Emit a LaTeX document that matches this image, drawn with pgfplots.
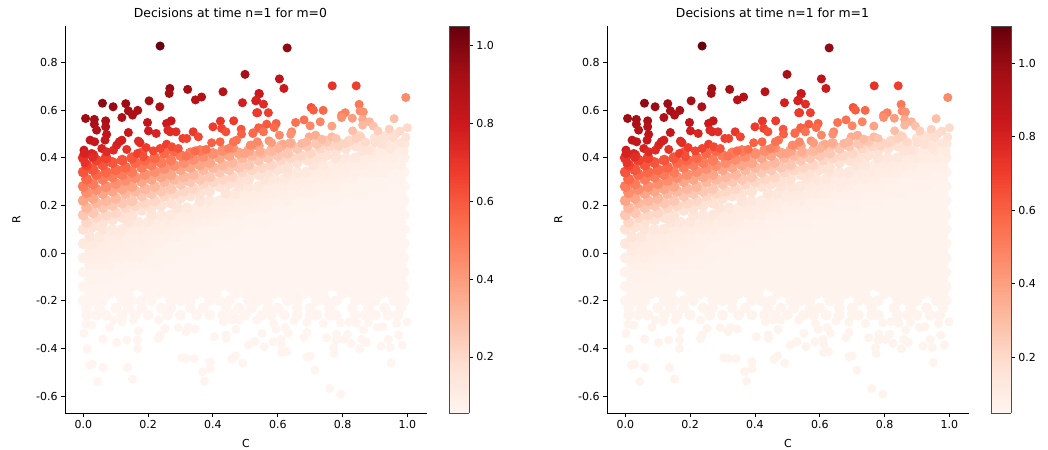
\documentclass[border=0pt]{standalone}
\usepackage{fontspec}
\setmainfont{DejaVu Sans}
\usepackage{pgfplots}
\usepackage{pgfplotstable}
\pgfplotsset{compat=1.18}
\pgfkeys{/pgf/number format/assume math mode=true}

% pale mass: same colour in both panels
\pgfplotstableread{
C R m
.01 -.26 .06
.04 -.26 .06
.07 -.26 .06
.12 -.26 .06
.16 -.26 .06
.2 -.26 .06
.26 -.26 .06
.3 -.26 .06
.35 -.26 .06
.39 -.26 .06
.43 -.26 .06
.46 -.26 .06
.5 -.26 .06
.55 -.26 .06
.58 -.26 .06
.62 -.26 .06
.66 -.26 .06
.7 -.26 .06
.72 -.26 .06
.76 -.26 .06
.78 -.26 .06
.84 -.26 .06
.87 -.26 .06
.9 -.26 .06
.94 -.26 .06
.97 -.26 .06
.01 -.23 .06
.05 -.23 .06
.1 -.23 .06
.14 -.23 .06
.18 -.23 .06
.24 -.23 .06
.27 -.23 .06
.33 -.23 .06
.37 -.23 .06
.44 -.23 .06
.48 -.23 .06
.52 -.23 .06
.57 -.23 .06
.6 -.23 .06
.66 -.23 .06
.7 -.23 .06
.76 -.23 .06
.83 -.23 .06
.88 -.23 .06
.93 -.23 .06
.98 -.23 .06
0 -.2 .06
.03 -.2 .06
.06 -.2 .06
.12 -.2 .06
.15 -.2 .06
.18 -.2 .06
.21 -.2 .06
.27 -.2 .06
.3 -.2 .06
.33 -.2 .06
.39 -.2 .06
.42 -.2 .06
.45 -.2 .06
.51 -.2 .06
.54 -.2 .06
.57 -.2 .06
.63 -.2 .06
.66 -.2 .06
.72 -.2 .06
.75 -.2 .06
.78 -.2 .06
.84 -.2 .06
.87 -.2 .06
.9 -.2 .06
.96 -.2 .06
.99 -.2 .06
.02 -.17 .06
.05 -.17 .06
.08 -.17 .06
.11 -.17 .06
.14 -.17 .06
.2 -.17 .06
.23 -.17 .06
.26 -.17 .06
.29 -.17 .06
.32 -.17 .06
.35 -.17 .06
.38 -.17 .06
.41 -.17 .06
.47 -.17 .06
.5 -.17 .06
.53 -.17 .06
.56 -.17 .06
.59 -.17 .06
.62 -.17 .06
.65 -.17 .06
.68 -.17 .06
.71 -.17 .06
.74 -.17 .06
.8 -.17 .06
.83 -.17 .06
.86 -.17 .06
.89 -.17 .06
.92 -.17 .06
.95 -.17 .06
.98 -.17 .06
0 -.14 .06
.03 -.14 .06
.06 -.14 .06
.09 -.14 .06
.12 -.14 .06
.15 -.14 .06
.18 -.14 .06
.21 -.14 .06
.24 -.14 .06
.27 -.14 .06
.3 -.14 .06
.33 -.14 .06
.36 -.14 .06
.39 -.14 .06
.42 -.14 .06
.45 -.14 .06
.48 -.14 .06
.51 -.14 .06
.54 -.14 .06
.57 -.14 .06
.6 -.14 .06
.63 -.14 .06
.66 -.14 .06
.69 -.14 .06
.72 -.14 .06
.75 -.14 .06
.78 -.14 .06
.81 -.14 .06
.84 -.14 .06
.87 -.14 .06
.9 -.14 .06
.93 -.14 .06
.96 -.14 .06
.99 -.14 .06
.02 -.11 .07
.05 -.11 .07
.08 -.11 .07
.11 -.11 .06
.14 -.11 .06
.17 -.11 .06
.2 -.11 .06
.23 -.11 .06
.26 -.11 .06
.29 -.11 .06
.32 -.11 .06
.35 -.11 .06
.38 -.11 .06
.41 -.11 .06
.44 -.11 .06
.47 -.11 .06
.5 -.11 .06
.53 -.11 .06
.56 -.11 .06
.59 -.11 .06
.62 -.11 .06
.65 -.11 .06
.68 -.11 .06
.71 -.11 .06
.74 -.11 .06
.77 -.11 .06
.8 -.11 .06
.83 -.11 .06
.86 -.11 .06
.89 -.11 .06
.92 -.11 .06
.95 -.11 .06
.98 -.11 .06
0 -.08 .07
.03 -.08 .07
.06 -.08 .07
.09 -.08 .07
.12 -.08 .07
.15 -.08 .06
.18 -.08 .06
.21 -.08 .06
.24 -.08 .06
.27 -.08 .06
.3 -.08 .06
.33 -.08 .06
.36 -.08 .06
.39 -.08 .06
.42 -.08 .06
.45 -.08 .06
.48 -.08 .06
.51 -.08 .06
.54 -.08 .06
.57 -.08 .06
.6 -.08 .06
.63 -.08 .06
.66 -.08 .06
.69 -.08 .06
.72 -.08 .06
.75 -.08 .06
.78 -.08 .06
.81 -.08 .06
.84 -.08 .06
.87 -.08 .06
.9 -.08 .06
.93 -.08 .06
.96 -.08 .06
.99 -.08 .06
.02 -.05 .08
.05 -.05 .08
.08 -.05 .08
.11 -.05 .07
.14 -.05 .07
.17 -.05 .07
.2 -.05 .07
.23 -.05 .07
.26 -.05 .06
.29 -.05 .06
.32 -.05 .06
.35 -.05 .06
.38 -.05 .06
.41 -.05 .06
.44 -.05 .06
.47 -.05 .06
.5 -.05 .06
.53 -.05 .06
.56 -.05 .06
.59 -.05 .06
.62 -.05 .06
.65 -.05 .06
.68 -.05 .06
.71 -.05 .06
.74 -.05 .06
.77 -.05 .06
.8 -.05 .06
.83 -.05 .06
.86 -.05 .06
.89 -.05 .06
.92 -.05 .06
.95 -.05 .06
.98 -.05 .06
0 -.02 .09
.03 -.02 .09
.06 -.02 .09
.09 -.02 .08
.12 -.02 .08
.15 -.02 .08
.18 -.02 .08
.21 -.02 .07
.24 -.02 .07
.27 -.02 .07
.3 -.02 .06
.33 -.02 .06
.36 -.02 .06
.39 -.02 .06
.42 -.02 .06
.45 -.02 .06
.48 -.02 .06
.51 -.02 .06
.54 -.02 .06
.57 -.02 .06
.6 -.02 .06
.63 -.02 .06
.66 -.02 .06
.69 -.02 .06
.72 -.02 .06
.75 -.02 .06
.78 -.02 .06
.81 -.02 .06
.84 -.02 .06
.87 -.02 .06
.9 -.02 .06
.93 -.02 .06
.96 -.02 .06
.99 -.02 .06
.02 .01 .11
.05 .01 .1
.08 .01 .1
.11 .01 .09
.14 .01 .09
.17 .01 .08
.2 .01 .08
.23 .01 .07
.26 .01 .07
.29 .01 .07
.32 .01 .07
.35 .01 .06
.38 .01 .06
.41 .01 .06
.44 .01 .06
.47 .01 .06
.5 .01 .06
.53 .01 .06
.56 .01 .06
.59 .01 .06
.62 .01 .06
.65 .01 .06
.68 .01 .06
.71 .01 .06
.74 .01 .06
.77 .01 .06
.8 .01 .06
.83 .01 .06
.86 .01 .06
.89 .01 .06
.92 .01 .06
.95 .01 .06
.98 .01 .06
0 .04 .13
.03 .04 .12
.06 .04 .11
.09 .04 .1
.12 .04 .1
.15 .04 .09
.18 .04 .09
.21 .04 .08
.24 .04 .08
.27 .04 .07
.3 .04 .07
.33 .04 .07
.36 .04 .07
.39 .04 .07
.42 .04 .06
.45 .04 .06
.48 .04 .06
.51 .04 .06
.54 .04 .06
.57 .04 .06
.6 .04 .06
.63 .04 .06
.66 .04 .06
.69 .04 .06
.72 .04 .06
.75 .04 .06
.78 .04 .06
.81 .04 .06
.84 .04 .06
.87 .04 .06
.9 .04 .06
.93 .04 .06
.96 .04 .06
.99 .04 .06
.02 .07 .15
.05 .07 .13
.08 .07 .11
.11 .07 .11
.14 .07 .1
.17 .07 .1
.2 .07 .09
.23 .07 .08
.26 .07 .08
.29 .07 .08
.32 .07 .07
.35 .07 .07
.38 .07 .07
.41 .07 .07
.44 .07 .07
.47 .07 .06
.5 .07 .06
.53 .07 .06
.56 .07 .06
.59 .07 .06
.62 .07 .06
.65 .07 .06
.68 .07 .06
.71 .07 .06
.74 .07 .06
.77 .07 .06
.8 .07 .06
.83 .07 .06
.86 .07 .06
.89 .07 .06
.92 .07 .06
.95 .07 .06
.98 .07 .06
.06 .1 .15
.09 .1 .13
.12 .1 .13
.15 .1 .11
.18 .1 .11
.21 .1 .1
.24 .1 .1
.27 .1 .09
.3 .1 .08
.33 .1 .08
.36 .1 .07
.39 .1 .07
.42 .1 .07
.45 .1 .07
.48 .1 .07
.51 .1 .06
.54 .1 .06
.57 .1 .06
.6 .1 .06
.63 .1 .06
.66 .1 .06
.69 .1 .06
.72 .1 .06
.75 .1 .06
.78 .1 .06
.81 .1 .06
.84 .1 .06
.87 .1 .06
.9 .1 .06
.93 .1 .06
.96 .1 .06
.99 .1 .06
.14 .13 .15
.17 .13 .13
.2 .13 .13
.23 .13 .11
.26 .13 .11
.29 .13 .1
.32 .13 .1
.35 .13 .09
.38 .13 .08
.41 .13 .08
.44 .13 .07
.47 .13 .07
.5 .13 .07
.53 .13 .07
.56 .13 .07
.59 .13 .06
.62 .13 .06
.65 .13 .06
.68 .13 .06
.71 .13 .06
.74 .13 .06
.77 .13 .06
.8 .13 .06
.83 .13 .06
.86 .13 .06
.89 .13 .06
.92 .13 .06
.95 .13 .06
.98 .13 .06
.21 .16 .15
.24 .16 .13
.27 .16 .13
.3 .16 .11
.33 .16 .11
.36 .16 .1
.39 .16 .1
.42 .16 .09
.45 .16 .08
.48 .16 .08
.51 .16 .07
.54 .16 .07
.57 .16 .07
.6 .16 .07
.63 .16 .07
.66 .16 .06
.69 .16 .06
.72 .16 .06
.75 .16 .06
.78 .16 .06
.81 .16 .06
.84 .16 .06
.87 .16 .06
.9 .16 .06
.93 .16 .06
.96 .16 .06
.99 .16 .06
.29 .19 .15
.32 .19 .13
.35 .19 .11
.38 .19 .11
.41 .19 .1
.44 .19 .1
.47 .19 .09
.5 .19 .08
.53 .19 .08
.56 .19 .08
.59 .19 .07
.62 .19 .07
.65 .19 .07
.68 .19 .07
.71 .19 .07
.74 .19 .06
.77 .19 .06
.8 .19 .06
.83 .19 .06
.86 .19 .06
.89 .19 .06
.92 .19 .06
.95 .19 .06
.98 .19 .06
.36 .22 .15
.39 .22 .13
.42 .22 .11
.45 .22 .11
.48 .22 .1
.51 .22 .1
.54 .22 .09
.57 .22 .08
.6 .22 .08
.63 .22 .08
.66 .22 .07
.69 .22 .07
.72 .22 .07
.75 .22 .07
.78 .22 .07
.81 .22 .06
.84 .22 .06
.87 .22 .06
.9 .22 .06
.93 .22 .06
.96 .22 .06
.99 .22 .06
.44 .25 .15
.47 .25 .13
.5 .25 .11
.53 .25 .11
.56 .25 .1
.59 .25 .1
.62 .25 .09
.65 .25 .08
.68 .25 .08
.71 .25 .08
.74 .25 .07
.77 .25 .07
.8 .25 .07
.83 .25 .07
.86 .25 .07
.89 .25 .06
.92 .25 .06
.95 .25 .06
.98 .25 .06
.48 .28 .15
.51 .28 .14
.54 .28 .13
.57 .28 .11
.6 .28 .11
.63 .28 .1
.66 .28 .1
.69 .28 .09
.72 .28 .08
.75 .28 .08
.78 .28 .08
.81 .28 .07
.84 .28 .07
.87 .28 .07
.9 .28 .07
.93 .28 .07
.96 .28 .06
.99 .28 .06
.56 .31 .15
.59 .31 .13
.62 .31 .13
.65 .31 .11
.68 .31 .11
.71 .31 .1
.74 .31 .1
.77 .31 .09
.8 .31 .08
.83 .31 .08
.86 .31 .07
.89 .31 .07
.92 .31 .07
.95 .31 .07
.98 .31 .07
.63 .34 .15
.66 .34 .13
.69 .34 .13
.72 .34 .11
.75 .34 .11
.78 .34 .1
.81 .34 .1
.84 .34 .09
.87 .34 .08
.9 .34 .08
.93 .34 .08
.96 .34 .07
.99 .34 .07
.71 .37 .15
.74 .37 .13
.77 .37 .11
.8 .37 .11
.83 .37 .1
.86 .37 .1
.89 .37 .09
.92 .37 .08
.95 .37 .08
.98 .37 .08
.78 .4 .15
.81 .4 .13
.84 .4 .13
.87 .4 .11
.9 .4 .11
.93 .4 .1
.96 .4 .1
.99 .4 .09
.86 .43 .15
.89 .43 .13
.92 .43 .11
.95 .43 .11
.98 .43 .1
.93 .46 .15
.96 .46 .13
.99 .46 .13
}\lowerpts

% loose points under the mass
\pgfplotstableread{
C R m
.093 -.281 .06
.119 -.288 .06
.154 -.281 .06
.232 -.281 .06
.432 -.288 .06
.458 -.281 .06
.479 -.281 .06
.535 -.281 .06
.65 -.285 .06
.69 -.29 .06
.044 -.539 .06
.152 -.529 .06
.028 -.466 .06
.019 -.47 .06
.06 -.48 .06
.136 -.48 .06
.012 -.402 .06
.167 -.4 .06
.06 -.361 .06
.103 -.375 .06
.167 -.365 .06
.134 -.365 .06
.002 -.337 .06
.026 -.302 .06
.008 -.298 .06
.082 -.312 .06
.17 -.327 .06
.232 -.358 .06
.237 -.344 .06
.252 -.316 .06
.293 -.313 .06
.317 -.33 .06
.324 -.312 .06
.345 -.319 .06
.304 -.439 .06
.317 -.442 .06
.342 -.443 .06
.391 -.456 .06
.391 -.485 .06
.368 -.498 .06
.374 -.537 .06
.404 -.351 .06
.441 -.358 .06
.441 -.344 .06
.471 -.32 .06
.458 -.445 .06
.47 -.431 .06
.492 -.462 .06
.509 -.386 .06
.53 -.372 .06
.76 -.568 .06
.794 -.592 .06
.715 -.491 .06
.95 -.46 .06
.69 -.435 .06
.7 -.432 .06
.774 -.421 .06
.772 -.397 .06
.612 -.417 .06
.627 -.414 .06
.558 -.393 .06
.585 -.372 .06
.61 -.362 .06
.612 -.382 .06
.527 -.372 .06
.681 -.354 .06
.69 -.333 .06
.751 -.355 .06
.782 -.341 .06
.78 -.365 .06
.803 -.362 .06
.816 -.341 .06
.826 -.379 .06
.852 -.401 .06
.859 -.362 .06
.873 -.375 .06
.919 -.39 .06
.941 -.362 .06
.947 -.396 .06
.985 -.386 .06
.973 -.344 .06
.551 -.337 .06
.595 -.32 .06
.623 -.312 .06
.633 -.335 .06
.587 -.295 .06
.741 -.295 .06
.794 -.293 .06
.821 -.288 .06
.844 -.295 .06
.865 -.323 .06
.88 -.291 .06
.907 -.312 .06
.924 -.309 .06
.967 -.295 .06
.999 -.288 .06
}\sparsepts

% coloured band (first 179 rows) and the points above it
\pgfplotstableread{
C R m0 m1
0 .1 .17 .169
.03 .11 .17 .169
.06 .13 .17 .169
.09 .14 .17 .169
.12 .15 .17 .169
.15 .16 .17 .169
.18 .18 .17 .169
.21 .19 .17 .169
.24 .2 .17 .169
.27 .21 .17 .169
.3 .23 .17 .169
.33 .24 .17 .169
.36 .25 .17 .169
.39 .26 .17 .169
.42 .28 .17 .169
.45 .29 .17 .169
.48 .3 .17 .169
.51 .31 .17 .169
.54 .33 .17 .169
.57 .34 .17 .169
.6 .35 .17 .169
.63 .36 .17 .169
.66 .38 .17 .169
.69 .39 .17 .169
.72 .4 .17 .169
.75 .41 .17 .169
.78 .43 .17 .169
.81 .44 .17 .169
.84 .45 .17 .169
.87 .46 .17 .169
.9 .48 .17 .169
.93 .49 .17 .169
.01 .13 .21 .211
.04 .15 .21 .211
.07 .16 .21 .211
.1 .17 .21 .211
.13 .19 .21 .211
.16 .2 .21 .211
.19 .21 .21 .211
.22 .22 .21 .211
.25 .24 .21 .211
.28 .25 .21 .211
.31 .26 .21 .211
.34 .27 .21 .211
.37 .29 .21 .211
.4 .3 .21 .211
.43 .31 .21 .211
.46 .32 .21 .211
.49 .34 .21 .211
.52 .35 .21 .211
.55 .36 .21 .211
.58 .37 .21 .211
.61 .39 .21 .211
.64 .4 .21 .211
.67 .41 .21 .211
.7 .42 .21 .211
.73 .44 .21 .211
.76 .45 .21 .211
.79 .46 .21 .211
.82 .47 .21 .211
.85 .49 .21 .211
0 .16 .26 .264
.03 .17 .26 .264
.06 .19 .26 .264
.09 .2 .26 .264
.12 .21 .26 .264
.15 .22 .26 .264
.18 .24 .26 .264
.21 .25 .26 .264
.24 .26 .26 .264
.27 .27 .26 .264
.3 .29 .26 .264
.33 .3 .26 .264
.36 .31 .26 .264
.39 .32 .26 .264
.42 .34 .26 .264
.45 .35 .26 .264
.48 .36 .26 .264
.51 .37 .26 .264
.54 .39 .26 .264
.57 .4 .26 .264
.6 .41 .26 .264
.63 .42 .26 .264
.66 .44 .26 .264
.69 .45 .26 .264
.72 .46 .26 .264
.75 .47 .26 .264
.01 .19 .31 .317
.04 .21 .31 .317
.07 .22 .31 .317
.1 .23 .31 .317
.13 .25 .31 .317
.16 .26 .31 .317
.19 .27 .31 .317
.22 .28 .31 .317
.25 .3 .31 .317
.28 .31 .31 .317
.31 .32 .31 .317
.34 .33 .31 .317
.37 .35 .31 .317
.4 .36 .31 .317
.43 .37 .31 .317
.46 .38 .31 .317
.49 .4 .31 .317
.52 .41 .31 .317
.55 .42 .31 .317
.58 .43 .31 .317
.61 .45 .31 .317
.64 .46 .31 .317
0 .22 .37 .38
.03 .23 .37 .38
.06 .25 .37 .38
.09 .26 .37 .38
.12 .27 .37 .38
.15 .28 .37 .38
.18 .3 .37 .38
.21 .31 .37 .38
.24 .32 .37 .38
.27 .33 .37 .38
.3 .35 .37 .38
.33 .36 .37 .38
.36 .37 .37 .38
.39 .38 .37 .38
.42 .4 .37 .38
.45 .41 .37 .38
.48 .42 .37 .38
.51 .43 .37 .38
.54 .45 .37 .38
.01 .254 .44 .455
.04 .267 .44 .455
.07 .279 .44 .455
.1 .292 .44 .455
.13 .305 .44 .455
.16 .317 .44 .455
.19 .33 .44 .455
.22 .342 .44 .455
.25 .355 .44 .455
.28 .368 .44 .455
.31 .38 .44 .455
.34 .393 .44 .455
.37 .405 .44 .455
.4 .418 .44 .455
.43 .431 .44 .455
.46 .443 .44 .455
0 .28 .5 .518
.03 .29 .5 .518
.06 .31 .5 .518
.09 .32 .5 .518
.12 .33 .5 .518
.15 .34 .5 .518
.18 .36 .5 .518
.21 .37 .5 .518
.24 .38 .5 .518
.27 .39 .5 .518
.3 .41 .5 .518
.33 .42 .5 .518
.36 .43 .5 .518
.01 .31 .56 .58
.04 .33 .56 .58
.07 .34 .56 .58
.1 .35 .56 .58
.13 .36 .56 .58
.16 .38 .56 .58
.19 .39 .56 .58
.22 .4 .56 .58
.25 .42 .56 .58
.28 .43 .56 .58
0 .34 .61 .634
.03 .35 .61 .634
.06 .37 .61 .634
.09 .38 .61 .634
.12 .39 .61 .634
.15 .4 .61 .634
.18 .42 .61 .634
.01 .37 .66 .69
.04 .39 .66 .69
.07 .4 .66 .69
0 .4 .71 .74
.03 .41 .71 .74
.237 .869 1.05 1.1
.499 .75 .92 .96
.267 .691 .95 .99
.265 .67 .93 .97
.322 .687 .93 .97
.431 .677 .87 .91
.365 .655 .88 .92
.346 .643 .87 .91
.059 .629 .97 1.01
.092 .614 .95 .99
.131 .627 .94 .98
.203 .639 .93 .97
.236 .614 .9 .94
.168 .599 .91 .95
.139 .597 .92 .96
.152 .579 .9 .94
.119 .569 .9 .94
.007 .565 .94 .98
.034 .561 .93 .97
.034 .541 .91 .95
.041 .516 .88 .92
.069 .555 .91 .95
.069 .53 .88 .92
.072 .498 .84 .88
.067 .474 .82 .86
.198 .548 .84 .88
.201 .513 .79 .82
.225 .502 .76 .79
.271 .555 .81 .85
.257 .544 .8 .84
.261 .516 .75 .78
.268 .509 .74 .77
.286 .509 .73 .76
.139 .506 .82 .86
.021 .474 .84 .88
.035 .467 .82 .86
.002 .432 .8 .83
.003 .418 .77 .8
.026 .418 .76 .79
.029 .402 .73 .76
.005 .379 .71 .74
.057 .439 .77 .8
.072 .425 .74 .77
.093 .432 .74 .77
.103 .453 .76 .79
.119 .474 .78 .81
.111 .467 .78 .81
.134 .435 .71 .74
.17 .47 .74 .77
.175 .463 .73 .76
.194 .443 .68 .71
.167 .418 .67 .7
.185 .404 .63 .66
.216 .429 .65 .68
.237 .439 .65 .68
.257 .457 .67 .7
.273 .446 .64 .67
.293 .439 .62 .64
.307 .481 .67 .7
.319 .481 .66 .69
.339 .509 .69 .72
.355 .488 .65 .68
.345 .429 .55 .57
.317 .407 .53 .55
.379 .435 .54 .56
.4 .53 .68 .71
.423 .554 .7 .73
.427 .523 .66 .69
.44 .509 .63 .66
.464 .555 .68 .71
.487 .52 .61 .63
.488 .499 .58 .6
.396 .463 .58 .6
.422 .467 .57 .59
.463 .467 .53 .55
.473 .474 .53 .55
.448 .439 .48 .5
.515 .453 .45 .47
.524 .505 .55 .57
.541 .526 .58 .6
.491 .631 .78 .81
.532 .639 .77 .8
.542 .67 .81 .85
.535 .589 .68 .71
.497 .418 .38 .39
.629 .861 .97 1.01
.605 .731 .85 .89
.619 .691 .8 .83
.768 .702 .71 .74
.842 .702 .67 .7
.995 .653 .45 .47
.543 .668 .8 .84
.534 .642 .77 .8
.556 .625 .73 .76
.538 .589 .68 .71
.571 .589 .67 .7
.703 .611 .62 .64
.71 .6 .59 .61
.74 .599 .56 .58
.851 .624 .51 .53
.854 .596 .45 .47
.864 .592 .43 .45
.797 .579 .47 .49
.808 .589 .48 .5
.797 .569 .44 .46
.83 .566 .4 .41
.862 .561 .36 .37
.862 .537 .31 .32
.959 .564 .29 .3
.655 .548 .53 .55
.681 .559 .53 .55
.731 .551 .47 .49
.7 .534 .46 .48
.566 .541 .6 .62
.595 .544 .58 .6
.589 .527 .55 .57
.545 .523 .58 .6
.556 .509 .53 .55
.523 .502 .55 .57
.643 .509 .46 .48
.64 .499 .43 .45
.605 .495 .46 .48
.767 .533 .38 .39
.831 .513 .29 .3
.883 .551 .32 .33
.895 .533 .28 .29
.909 .513 .24 .24
.944 .52 .23 .23
1 .526 .2 .2
.977 .512 .2 .2
.964 .499 .19 .19
.955 .485 .18 .18
.995 .487 .17 .17
.98 .464 .15 .15
.841 .481 .23 .23
.856 .488 .23 .23
.87 .466 .2 .2
.767 .488 .3 .31
.78 .481 .27 .28
.697 .488 .35 .36
.717 .495 .35 .36
.736 .478 .3 .31
.573 .471 .43 .45
.581 .463 .4 .41
.537 .467 .46 .48
.52 .453 .45 .47
.617 .457 .36 .37
.638 .463 .35 .36
.602 .439 .33 .34
.674 .46 .31 .32
.689 .467 .31 .32
.808 .46 .22 .22
.787 .449 .22 .22
.545 .425 .35 .36
.9 .463 .18 .18
.921 .457 .17 .17
.947 .439 .14 .14
.99 .428 .11 .11
.88 .432 .16 .16
}\upperpts

\pgfplotsset{
  colormap={reds}{rgb255=(255,245,240) rgb255=(254,224,210) rgb255=(252,187,161) rgb255=(252,146,114) rgb255=(251,106,74) rgb255=(239,59,44) rgb255=(203,24,29) rgb255=(165,15,21) rgb255=(103,0,13)},
  panel/.style={
    anchor=south west, scale only axis, width=362bp, height=387bp,
    xmin=-0.0565, xmax=1.0605, ymin=-0.671, ymax=0.953,
    axis x line*=bottom, axis y line*=left, axis line style={-, line width=0.9bp},
    xtick={0,0.2,0.4,0.6,0.8,1}, ytick={-0.6,-0.4,-0.2,0,0.2,0.4,0.6,0.8},
    tick align=outside, major tick length=3.9bp,
    tick style={black, line width=0.9bp},
    tick label style={font=\fontsize{11bp}{13bp}\selectfont},
    label style={font=\fontsize{11bp}{13bp}\selectfont},
    title style={font=\fontsize{12.4bp}{15bp}\selectfont, at={(0.457,1)}, yshift=-1bp},
    /pgf/number format/fixed, /pgf/number format/fixed zerofill, /pgf/number format/precision=1,
    xlabel={C}, ylabel={R},
    xlabel style={yshift=-4bp}, ylabel style={yshift=9bp},
    colorbar sampled,
    colorbar style={
      at={(1.0608,1)}, anchor=north west, width=20bp,
      samples=150,
      ytick={0.2,0.4,0.6,0.8,1}, ytick pos=right, yticklabel pos=right,
      tick align=outside, major tick length=3.9bp,
      tick style={black, line width=0.9bp},
      axis line style={line width=0.9bp, black!70},
      yticklabel style={font=\fontsize{11bp}{13bp}\selectfont,
        /pgf/number format/fixed, /pgf/number format/fixed zerofill, /pgf/number format/precision=1},
    },
  },
  dots/.style={scatter, only marks, mark=*, mark size=4bp, scatter src=explicit,
    mark options={line width=1bp},
    scatter/use mapped color={draw=mapped color, fill=mapped color}},
  mass/.style={dots, mark size=5bp},
}

\begin{document}
\begin{tikzpicture}
\useasboundingbox (0,0) rectangle (1048bp,450bp);
\begin{axis}[panel, at={(65bp,37bp)}, title={Decisions at time n=1 for m=0},
    point meta min=0.056, point meta max=1.051]
\addplot[dots] table[x=C, y=R, meta=m] {\sparsepts};
\addplot[mass] table[x=C, y=R, meta=m] {\lowerpts};
\addplot[mass, skip coords between index={179}{1000}] table[x=C, y=R, meta=m0] {\upperpts};
\addplot[dots, skip coords between index={0}{179}] table[x=C, y=R, meta=m0] {\upperpts};
\end{axis}
\begin{axis}[panel, at={(607bp,37bp)}, title={Decisions at time n=1 for m=1},
    point meta min=0.048, point meta max=1.101]
\addplot[dots] table[x=C, y=R, meta=m] {\sparsepts};
\addplot[mass] table[x=C, y=R, meta=m] {\lowerpts};
\addplot[mass, skip coords between index={179}{1000}] table[x=C, y=R, meta=m1] {\upperpts};
\addplot[dots, skip coords between index={0}{179}] table[x=C, y=R, meta=m1] {\upperpts};
\end{axis}
\end{tikzpicture}
\end{document}
